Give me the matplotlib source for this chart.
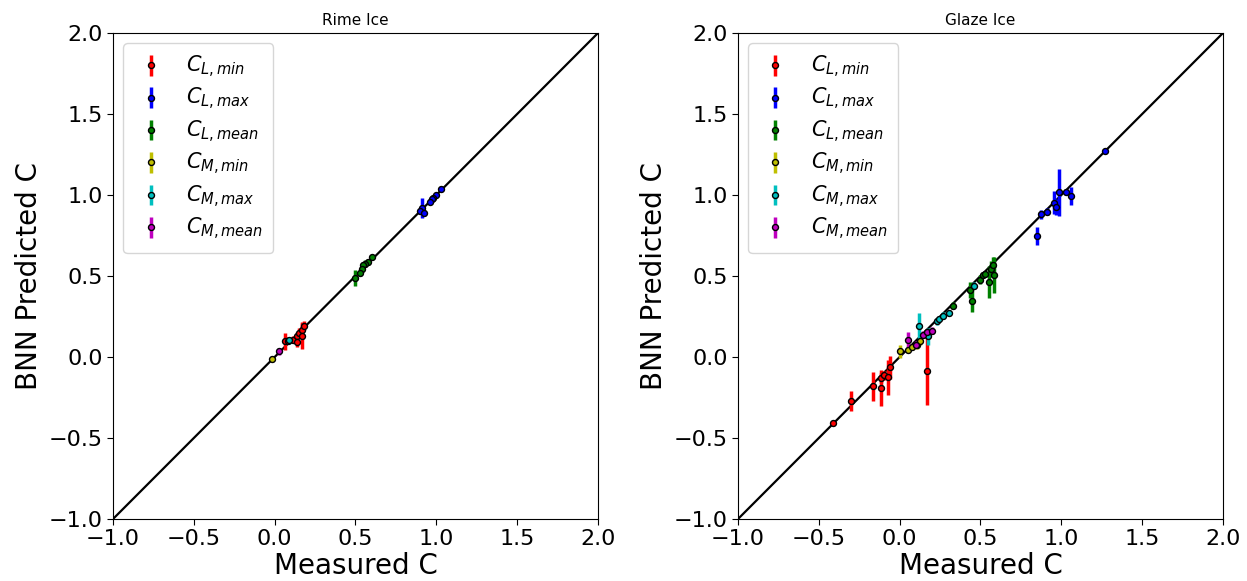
import matplotlib
matplotlib.use("Agg")
import matplotlib.pyplot as plt
import numpy as np

# ---------------- data ----------------
labels = [r'$C_{L,min}$', r'$C_{L,max}$', r'$C_{L,mean}$',
          r'$C_{M,min}$', r'$C_{M,max}$', r'$C_{M,mean}$']
colors = ['r', 'b', 'g', 'y', 'c', 'm']
titles = ['Rime Ice', 'Glaze Ice']

# Rime ice
rime_CLmin_x = [0.062, 0.080, 0.111, 0.136, 0.136, 0.150, 0.167, 0.171, 0.183]
rime_CLmin_y = [0.096, 0.101, 0.107, 0.127, 0.090, 0.148, 0.164, 0.132, 0.194]
rime_CLmin_e = [0.05, 0.02, 0.02, 0.03, 0.03, 0.03, 0.05, 0.08, 0.03]
rime_CLmax_x = [1.027, 0.996, 0.981, 0.971, 0.960, 0.909, 0.902, 0.923]
rime_CLmax_y = [1.035, 0.999, 0.983, 0.973, 0.959, 0.921, 0.900, 0.890]
rime_CLmax_e = [0.01, 0.01, 0.01, 0.01, 0.015, 0.06, 0.02, 0.02]
rime_CLmean_x = [0.604, 0.575, 0.558, 0.548, 0.538, 0.527, 0.497]
rime_CLmean_y = [0.618, 0.585, 0.577, 0.565, 0.544, 0.519, 0.489]
rime_CLmean_e = [0.01, 0.02, 0.02, 0.02, 0.02, 0.02, 0.05]
rime_CMmin_x = [-0.019]
rime_CMmin_y = [-0.010]
rime_CMmin_e = [0.01]
rime_CMmax_x = [0.090]
rime_CMmax_y = [0.103]
rime_CMmax_e = [0.02]
rime_CMmean_x = [0.027]
rime_CMmean_y = [0.035]
rime_CMmean_e = [0.02]

# Glaze ice
glaze_CLmin_x = [-0.41, -0.303, -0.167, -0.114, -0.118, -0.095, -0.074, -0.060, 0.167]
glaze_CLmin_y = [-0.41, -0.272, -0.182, -0.190, -0.130, -0.114, -0.126, -0.064, -0.089]
glaze_CLmin_e = [0.01, 0.06, 0.09, 0.11, 0.03, 0.03, 0.11, 0.07, 0.21]
glaze_CLmax_x = [0.847, 0.872, 0.909, 0.954, 0.967, 0.987, 1.028, 1.059, 1.27]
glaze_CLmax_y = [0.746, 0.880, 0.897, 0.952, 0.925, 1.018, 1.018, 0.993, 1.27]
glaze_CLmax_e = [0.055, 0.03, 0.02, 0.07, 0.05, 0.145, 0.02, 0.055, 0.01]
glaze_CLmean_x = [0.332, 0.435, 0.449, 0.500, 0.517, 0.528, 0.554, 0.564, 0.579, 0.585]
glaze_CLmean_y = [0.317, 0.416, 0.348, 0.478, 0.505, 0.513, 0.464, 0.544, 0.565, 0.505]
glaze_CLmean_e = [0.02, 0.05, 0.07, 0.03, 0.02, 0.02, 0.10, 0.05, 0.05, 0.11]
glaze_CMmin_x = [0.002, 0.053, 0.078, 0.105, 0.126]
glaze_CMmin_y = [0.035, 0.045, 0.062, 0.072, 0.096]
glaze_CMmin_e = [0.04, 0.02, 0.02, 0.02, 0.02]
glaze_CMmax_x = [0.121, 0.177, 0.229, 0.245, 0.266, 0.307, 0.460]
glaze_CMmax_y = [0.194, 0.127, 0.220, 0.235, 0.255, 0.272, 0.440]
glaze_CMmax_e = [0.08, 0.05, 0.02, 0.02, 0.02, 0.02, 0.02]
glaze_CMmean_x = [0.053, 0.101, 0.146, 0.167, 0.198]
glaze_CMmean_y = [0.103, 0.076, 0.138, 0.155, 0.163]
glaze_CMmean_e = [0.05, 0.02, 0.02, 0.02, 0.02]

ticks = [-1.0, -0.5, 0.0, 0.5, 1.0, 1.5, 2.0]

rime = [(rime_CLmin_x, rime_CLmin_y, rime_CLmin_e),
        (rime_CLmax_x, rime_CLmax_y, rime_CLmax_e),
        (rime_CLmean_x, rime_CLmean_y, rime_CLmean_e),
        (rime_CMmin_x, rime_CMmin_y, rime_CMmin_e),
        (rime_CMmax_x, rime_CMmax_y, rime_CMmax_e),
        (rime_CMmean_x, rime_CMmean_y, rime_CMmean_e)]
glaze = [(glaze_CLmin_x, glaze_CLmin_y, glaze_CLmin_e),
         (glaze_CLmax_x, glaze_CLmax_y, glaze_CLmax_e),
         (glaze_CLmean_x, glaze_CLmean_y, glaze_CLmean_e),
         (glaze_CMmin_x, glaze_CMmin_y, glaze_CMmin_e),
         (glaze_CMmax_x, glaze_CMmax_y, glaze_CMmax_e),
         (glaze_CMmean_x, glaze_CMmean_y, glaze_CMmean_e)]

# ---------------- plot ----------------
fig = plt.figure(figsize=(12.47, 5.81), dpi=100)
ax1 = fig.add_axes([113/1247, 62/581, 485/1247, 486/581])
ax2 = fig.add_axes([738/1247, 62/581, 485/1247, 486/581])

for ax, data, title in zip([ax1, ax2], [rime, glaze], titles):
    ax.plot([-1, 2], [-1, 2], color='k', lw=1.6, zorder=1)
    for (x, y, e), c, lab in zip(data, colors, labels):
        ax.errorbar(x, y, yerr=e, fmt='o', color=c, mfc=c, mec='k', mew=1.0,
                    ms=4.3, elinewidth=2.5, capsize=0, label=lab, zorder=2)
    ax.set_xlim(-1, 2)
    ax.set_ylim(-1, 2)
    ax.set_xticks(ticks)
    ax.set_yticks(ticks)
    ax.tick_params(labelsize=16, length=4)
    ax.set_xlabel('Measured C', fontsize=20, labelpad=2)
    ax.set_ylabel('BNN Predicted C', fontsize=20)
    ax.set_title(title, fontsize=11)
    ax.legend(loc='upper left', fontsize=15, labelspacing=0.3,
              handlelength=1.6, handletextpad=0.9, borderpad=0.5)

fig.savefig('out.png', dpi=100)
